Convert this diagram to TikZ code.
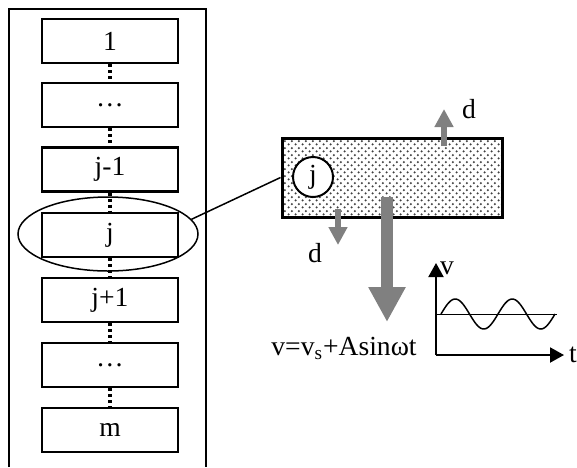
\documentclass[tikz,border=0pt]{standalone}
\usepackage{fontspec}
\setmainfont{Liberation Serif}
\usetikzlibrary{arrows.meta,shapes.geometric,patterns}

\pgfdeclarepatternformonly{celldots}{\pgfqpoint{0pt}{0pt}}{\pgfqpoint{3.6pt}{3.6pt}}{\pgfqpoint{3.6pt}{3.6pt}}{
    \pgfpathcircle{\pgfqpoint{0.9pt}{0.9pt}}{0.65pt}
    \pgfpathcircle{\pgfqpoint{2.7pt}{2.7pt}}{0.65pt}
    \pgfusepath{fill}
}

\tikzset{
  layer/.style={draw, line width=1.1pt, minimum width=68pt, minimum height=22pt, inner sep=0pt},
  link/.style={line width=1.6pt, dash pattern=on 1.5pt off 1.5pt},
  flux/.style={draw=black!50, line width=3pt, -{Triangle[width=9pt,length=9pt]}},
  bigflux/.style={draw=black!50, line width=6pt, -{Triangle[width=17.5pt,length=17.5pt]}},
  axis/.style={line width=1pt, -{Triangle[width=7.5pt,length=7pt]}},
}

\begin{document}
\begin{tikzpicture}[x=0.5pt, y=-0.5pt, font=\fontsize{13.8}{16}\selectfont]
    \useasboundingbox (0,0) rectangle (577,467);

    % column of layers
    \draw[line width=0.6pt] (9,467) -- (9,9) -- (206,9) -- (206,467);
    \foreach \i/\lbl/\yy in {1/1/41, 2/\dots/105, 3/j-1/169.5, 4/j/235,
                             5/j+1/300, 6/\dots/365, 7/m/430}
        \node[layer] (b\i) at (110,\yy) {\lbl};
    \foreach \i [count=\j from 2] in {1,...,6}
        \draw[link] (b\i) -- (b\j);

    \node[draw, ellipse, line width=0.75pt, minimum width=90pt, minimum height=37pt, inner sep=0pt] (sel) at (108,234) {};

    % enlarged cell
    \node[draw, line width=1.5pt, pattern=celldots, pattern color=black!75,
          minimum width=110pt, minimum height=39.5pt, inner sep=0pt] (cell) at (392,177.5) {};
    \node[draw, circle, fill=white, line width=1pt, minimum size=20pt, inner sep=0pt] (cj) at (313,177) {j};
    \draw[line width=0.75pt] (sel.10) -- (cell.west);

    \coordinate (up0) at (444,146);
    \coordinate (up1) at (444,109);
    \coordinate (dn0) at (338,209);
    \coordinate (dn1) at (338,245);
    \coordinate (vs0) at (387,197);
    \coordinate (vs1) at (387,322);
    \draw[flux] (up0) -- (up1);
    \draw[flux] (dn0) -- (dn1);
    \draw[bigflux] (vs0) -- (vs1);
    \node (dup) at (469,109) {d};
    \node (ddn) at (315,253) {d};
    \node[anchor=base] (law) at (344,355) {v=v\textsubscript{s}+Asinωt};

    % velocity plot
    \coordinate (o) at (436,355);
    \coordinate (vtip) at (436,263);
    \coordinate (ttip) at (564,355);
    \draw[axis] (o) -- (vtip);
    \draw[axis] (o) -- (ttip);
    \node (vl) at (447,268) {v};
    \node (tl) at (573,355) {t};
    \draw[line width=0.5pt] (437,314) -- (557,314);
    \draw[line width=0.75pt] plot[domain=441:555, samples=90] (\x, {314-15*sin(6.3158*(\x-441))});
\end{tikzpicture}
\end{document}
